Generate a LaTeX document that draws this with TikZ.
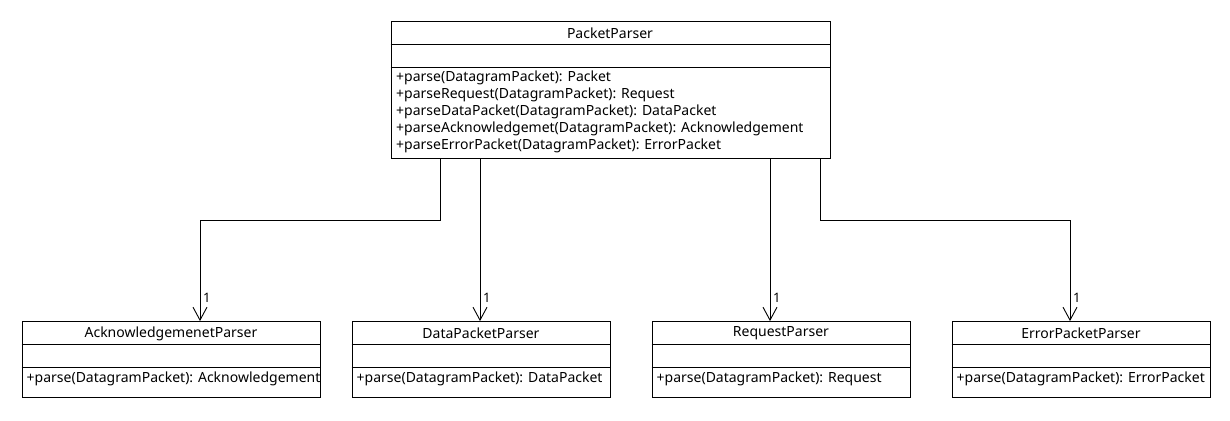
\documentclass[tikz,border=0pt]{standalone}
\usepackage{fontspec}
\setmainfont{Noto Sans}
\usetikzlibrary{arrows.meta}
\begin{document}
\begin{tikzpicture}[x=1pt,y=1pt,
  box/.style={draw,line width=0.9pt,rectangle,inner sep=0pt,anchor=south west},
  txt/.style={inner sep=0pt,font=\fontsize{14}{16}\selectfont},
  meth/.style={txt,anchor=west},
  mult/.style={inner sep=0pt,font=\fontsize{13}{15}\selectfont,anchor=west},
  assoc/.style={draw,line width=0.9pt,-{Straight Barb[length=13pt,width=14pt,line width=0.9pt]}}]
\fill[white] (0,0) rectangle (1230,420);
\useasboundingbox (0,0) rectangle (1230,420);
% top class
\node[box,minimum width=439pt,minimum height=137pt] (pp) at (390.5,261.5) {};
\draw[line width=0.9pt] (390.5,376) -- (829.5,376);
\draw[line width=0.9pt] (390.5,353) -- (829.5,353);
\node[txt] (ppn) at (610,386.5) {PacketParser};
\node[meth] (ppm1) at (396,342) {+parse(DatagramPacket): Packet};
\node[meth] (ppm2) at (396,325) {+parseRequest(DatagramPacket): Request};
\node[meth] (ppm3) at (396,308) {+parseDataPacket(DatagramPacket): DataPacket};
\node[meth] (ppm4) at (396,291) {+parseAcknowledgemet(DatagramPacket): Acknowledgement};
\node[meth] (ppm5) at (396,274) {+parseErrorPacket(DatagramPacket): ErrorPacket};
% bottom classes
\node[box,minimum width=298pt,minimum height=76pt] (ack) at (21.5,22) {};
\node[box,minimum width=258pt,minimum height=76pt] (dat) at (351.5,22) {};
\node[box,minimum width=258pt,minimum height=76pt] (req) at (651.5,22) {};
\node[box,minimum width=258pt,minimum height=76pt] (err) at (951.5,22) {};
\foreach \b in {ack,dat,req,err}{
  \draw[line width=0.9pt] ([yshift=-23pt]\b.north west) -- ([yshift=-23pt]\b.north east);
  \draw[line width=0.9pt] ([yshift=-46pt]\b.north west) -- ([yshift=-46pt]\b.north east);
}
\node[txt] (ackn) at ([yshift=-12.5pt]ack.north) {AcknowledgemenetParser};
\node[txt] (datn) at ([yshift=-12.5pt]dat.north) {DataPacketParser};
\node[txt] (reqn) at ([yshift=-12.5pt]req.north) {RequestParser};
\node[txt] (errn) at ([yshift=-12.5pt]err.north) {ErrorPacketParser};
\node[meth] (ackm) at ([xshift=5pt,yshift=-58pt]ack.north west) {+parse(DatagramPacket): Acknowledgement};
\node[meth] (datm) at ([xshift=5pt,yshift=-58pt]dat.north west) {+parse(DatagramPacket): DataPacket};
\node[meth] (reqm) at ([xshift=5pt,yshift=-58pt]req.north west) {+parse(DatagramPacket): Request};
\node[meth] (errm) at ([xshift=5pt,yshift=-58pt]err.north west) {+parse(DatagramPacket): ErrorPacket};
% connectors
\coordinate (s1) at (440,261.5);
\coordinate (s2) at (480,261.5);
\coordinate (s3) at (770,261.5);
\coordinate (s4) at (820,261.5);
\draw[assoc] (s1) |- (200,200) -- (ack.north -| 200,0);
\draw[assoc] (s2) -- (s2 |- dat.north);
\draw[assoc] (s3) -- (s3 |- req.north);
\draw[assoc] (s4) |- (1070,200) -- (err.north -| 1070,0);
\node[mult] (m1) at (203,122) {1};
\node[mult] (m2) at (483,122) {1};
\node[mult] (m3) at (773,122) {1};
\node[mult] (m4) at (1073,122) {1};
\end{tikzpicture}
\end{document}
